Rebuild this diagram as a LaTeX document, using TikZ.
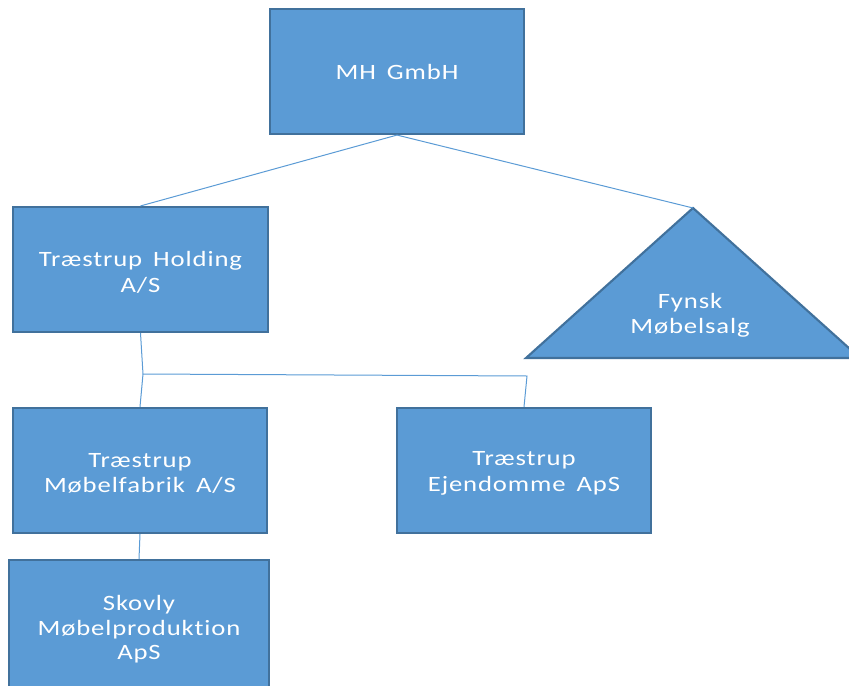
\documentclass[tikz,border=0pt]{standalone}
\usepackage{fontspec}
\setmainfont{Carlito}[FakeStretch=1.22,LetterSpace=4,WordSpace=1.6,Ligatures={NoCommon}]
\definecolor{boxfill}{HTML}{5B9BD5}
\definecolor{boxline}{HTML}{41719C}
\definecolor{conn}{HTML}{5B9BD5}
\newcommand{\lowtext}[2]{\raisebox{-#1}[\height][\depth]{\shortstack{#2}}}
\begin{document}
\begin{tikzpicture}[x=0.75pt,y=-0.75pt,
  orgbox/.style={draw=boxline,line width=1.6pt,fill=boxfill,text=white,
    minimum width=191pt,minimum height=93.75pt,align=center,inner sep=0pt,
    font=\fontsize{16.4}{18.6}\selectfont},
  conline/.style={draw=conn,line width=0.75pt}]
\useasboundingbox (0,0) rectangle (849,685);
\clip (0,0) rectangle (849,685);
\node[orgbox] (mh) at (397,71.5) {MH GmbH};
\node[orgbox] (th) at (140.5,269.5) {\lowtext{2.2pt}{Træstrup Holding\\[2.2pt]A/S}};
\node[orgbox] (tm) at (140,470.5) {\lowtext{2.2pt}{Træstrup\\[2.2pt]Møbelfabrik A/S}};
\node[orgbox] (te) at (524,470.5) {\lowtext{2.2pt}{Træstrup\\[2.2pt]Ejendomme ApS}};
\node[orgbox,minimum width=195pt,minimum height=100.5pt] (sk) at (139,627) {\lowtext{1.5pt}{Skovly\\[1.6pt]Møbelproduktion\\[1.6pt]ApS}};
% triangle
\coordinate (fytop) at (693,208);
\filldraw[draw=boxline,line width=1.6pt,fill=boxfill,line join=miter] (fytop) -- (860,358) -- (526,358) -- cycle;
\node[text=white,align=center,font=\fontsize{16.4}{18.6}\selectfont] (fy) at (690,315) {Fynsk\\Møbelsalg};
% connectors
\coordinate (j1) at (143,374);
\coordinate (j2) at (527,376);
\draw[conline] (mh.south) -- (th.north);
\draw[conline] (mh.south) -- (fytop);
\draw[conline] (th.south) -- (j1) -- (tm.north);
\draw[conline] (j1) -- (j2) -- (te.north);
\draw[conline] (tm.south) -- (sk.north);
\end{tikzpicture}
\end{document}
